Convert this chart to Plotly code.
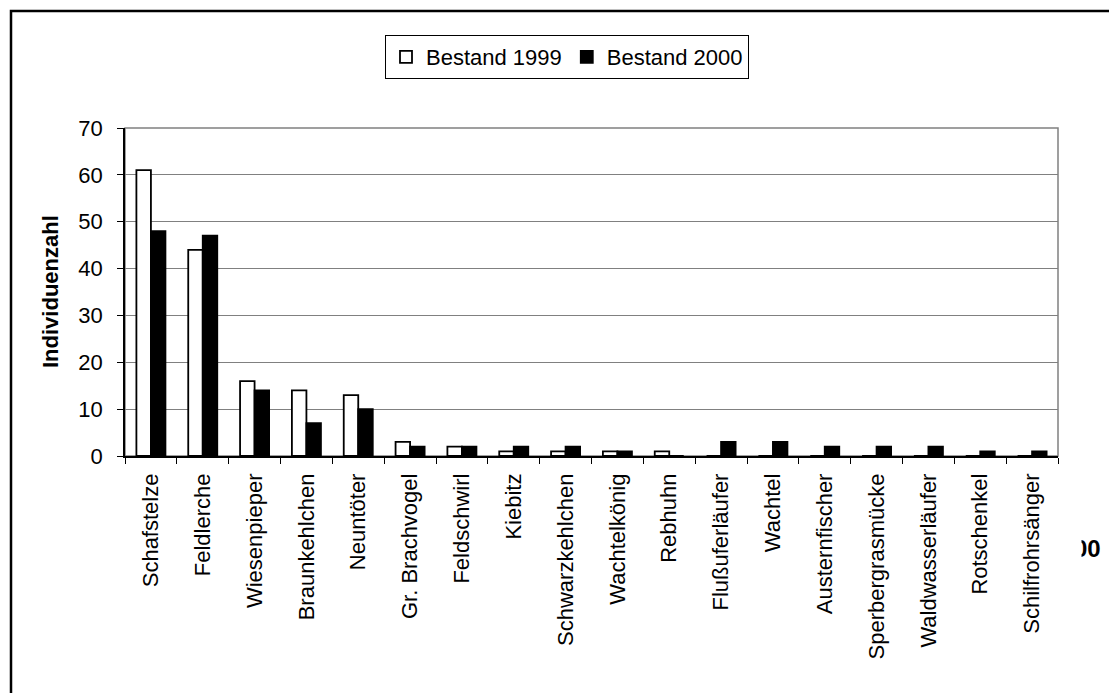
import plotly.graph_objects as go

categories = ["Schafstelze", "Feldlerche", "Wiesenpieper", "Braunkehlchen", "Neuntöter",
              "Gr. Brachvogel", "Feldschwirl", "Kiebitz", "Schwarzkehlchen", "Wachtelkönig",
              "Rebhuhn", "Flußuferläufer", "Wachtel", "Austernfischer", "Sperbergrasmücke",
              "Waldwasserläufer", "Rotschenkel", "Schilfrohrsänger"]
bestand_1999 = [61, 44, 16, 14, 13, 3, 2, 1, 1, 1, 1, 0, 0, 0, 0, 0, 0, 0]
bestand_2000 = [48, 47, 14, 7, 10, 2, 2, 2, 2, 1, 0, 3, 3, 2, 2, 2, 1, 1]
y_ticks = [0, 10, 20, 30, 40, 50, 60, 70]

FONT = "Arial, 'Liberation Sans', sans-serif"

fig = go.Figure()
fig.add_trace(go.Bar(x=categories, y=bestand_1999, name="Bestand 1999",
                     marker=dict(color="white", line=dict(color="black", width=1.8))))
fig.add_trace(go.Bar(x=categories, y=bestand_2000, name="Bestand 2000",
                     marker=dict(color="black", line=dict(color="black", width=1.8))))

W, H = 1109, 693
L, R, T, B = 125, 51, 128, 237
pw, ph = W - L - R, H - T - B

def px_x(x):
    return (x - L) / pw

def px_y(y):
    return (H - B - y) / ph

fig.update_layout(
    width=W, height=H,
    margin=dict(l=L, r=R, t=T, b=B, pad=0),
    paper_bgcolor="white", plot_bgcolor="white",
    font=dict(family=FONT, size=22, color="black"),
    barmode="group", bargap=0.44, bargroupgap=0.0,
    showlegend=True,
    legend=dict(orientation="h", x=px_x(567), y=px_y(35), xanchor="center", yanchor="top",
                bordercolor="black", borderwidth=1, bgcolor="white",
                font=dict(family=FONT, size=22, color="black"),
                itemwidth=30, tracegroupgap=0),
    xaxis=dict(type="category", tickangle=-90, tickson="boundaries",
               ticks="outside", ticklen=6, tickcolor="black", tickwidth=1,
               ticklabelstandoff=7,
               showline=True, linecolor="black", linewidth=1.5,
               showgrid=False, tickfont=dict(family=FONT, size=22, color="black"),
               automargin=False),
    yaxis=dict(range=[0, 70], tickvals=y_ticks, ticks="outside", ticklen=6,
               tickcolor="black", tickwidth=1, ticklabelstandoff=10,
               showline=True, linecolor="black", linewidth=1.5,
               showgrid=True, gridcolor="#808080", gridwidth=1.2, zeroline=False,
               tickfont=dict(family=FONT, size=22, color="black"),
               automargin=False),
    shapes=[
        dict(type="rect", xref="paper", yref="paper", x0=0, x1=1, y0=0, y1=1,
             line=dict(color="#808080", width=1.5), layer="below"),
        dict(type="rect", xref="paper", yref="paper",
             x0=px_x(11), x1=px_x(1125), y0=px_y(710), y1=px_y(11),
             line=dict(color="black", width=2.5)),
    ],
    annotations=[
        dict(text="<b>Individuenzahl</b>", xref="paper", yref="paper",
             x=px_x(50), y=px_y(292), textangle=-90,
             xanchor="center", yanchor="middle", showarrow=False,
             font=dict(family=FONT, size=22, color="black")),
        dict(text="<b>00</b>", xref="paper", yref="paper", x=px_x(1103), y=px_y(548),
             xanchor="right", yanchor="middle", showarrow=False,
             font=dict(family=FONT, size=24, color="black")),
        dict(text=" ", xref="paper", yref="paper", x=px_x(1082), y=px_y(548),
             xanchor="right", yanchor="middle", showarrow=False,
             width=20, height=34, bgcolor="white", borderpad=0,
             font=dict(family=FONT, size=24, color="white")),
    ],
)

fig.write_html("out.html")
